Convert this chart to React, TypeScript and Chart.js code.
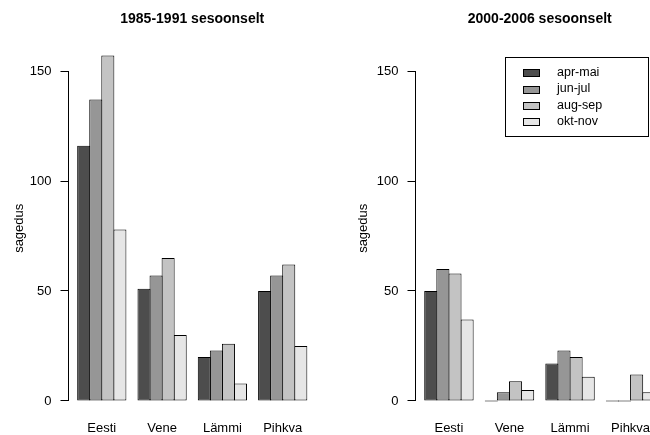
import { useEffect, useRef } from "react";
import { Chart, registerables } from "chart.js";

Chart.register(...registerables);

// Regions and seasons
const regions = ["Eesti", "Vene", "Lämmi", "Pihkva"];
const seasons = ["apr-mai", "jun-jul", "aug-sep", "okt-nov"];
const seasonColors = ["#4D4D4D", "#969696", "#C3C3C3", "#E6E6E6"];
const yTicks = [0, 50, 100, 150];

// 1985-1991, frequency per region
const p1AprMai = [116, 51, 20, 50];
const p1JunJul = [137, 57, 23, 57];
const p1AugSep = [157, 65, 26, 62];
const p1OktNov = [78, 30, 8, 25];

// 2000-2006, frequency per region
const p2AprMai = [50, 0, 17, 0];
const p2JunJul = [60, 4, 23, 0];
const p2AugSep = [58, 9, 20, 12];
const p2OktNov = [37, 5, 11, 4];

const FONT = "'Liberation Sans', Arial, Helvetica, sans-serif";
Chart.defaults.font.family = FONT;
Chart.defaults.color = "#000";

// shared value range: 0..max, padded by 4% on both ends
const allValues = [
  ...p1AprMai, ...p1JunJul, ...p1AugSep, ...p1OktNov,
  ...p2AprMai, ...p2JunJul, ...p2AugSep, ...p2OktNov,
];
const yTop = Math.max(...allValues);
const yPad = yTop * 0.04;

// group = 4 bars + 1 gap (5 bar units); bars span units 1..20,
// range padded by 4% of that span; first group centred at unit 3
const unitsPerGroup = 5;
const spanUnits = regions.length * unitsPerGroup - 1;
const xMinGroups = (1 - spanUnits * 0.04 - 3) / unitsPerGroup;
const xMaxGroups = regions.length - 1 - xMinGroups;

function alignPx(v: number) {
  return Math.round(v - 0.5) + 0.5;
}

const axisLinePlugin = {
  id: "axisLine",
  afterDraw(chart: any) {
    const { ctx, chartArea } = chart;
    const ys = chart.scales.y;
    const x = alignPx(chartArea.left);
    ctx.save();
    ctx.strokeStyle = "#000";
    ctx.lineWidth = 1;
    ctx.beginPath();
    ctx.moveTo(x, alignPx(ys.getPixelForValue(yTicks[0])) + 0.5);
    ctx.lineTo(x, alignPx(ys.getPixelForValue(yTicks[yTicks.length - 1])) - 0.5);
    ctx.stroke();
    ctx.restore();
  },
};

const legendBoxPlugin = {
  id: "legendBox",
  afterDraw(chart: any) {
    const opts = chart.options.plugins.legendBox;
    if (!opts || !opts.display) return;
    const { ctx } = chart;
    const { left, top, right, bottom, swatchX, swatchW, swatchH, textX, rowY, rowGap, fontSize } = opts;
    ctx.save();
    ctx.lineWidth = 1;
    ctx.strokeStyle = "#000";
    ctx.fillStyle = "#fff";
    ctx.fillRect(left, top, right - left, bottom - top);
    ctx.strokeRect(left, top, right - left, bottom - top);
    ctx.font = `${fontSize}px ${FONT}`;
    ctx.textBaseline = "middle";
    ctx.textAlign = "left";
    chart.data.datasets.forEach((ds: any, i: number) => {
      const cy = rowY + i * rowGap;
      const sy = Math.round(cy - swatchH / 2) + 0.5;
      ctx.fillStyle = ds.backgroundColor;
      ctx.fillRect(swatchX, sy, swatchW, swatchH);
      ctx.strokeStyle = "#000";
      ctx.strokeRect(swatchX, sy, swatchW, swatchH);
      ctx.fillStyle = "#000";
      ctx.fillText(ds.label, textX, cy);
    });
    ctx.restore();
  },
};

type PanelSpec = {
  title: string;
  series: number[][];
  axisWidth: number;
  rightPad: number;
  yTitlePad: number;
  legend?: any;
};

function makeChart(canvas: HTMLCanvasElement, spec: PanelSpec) {
  return new Chart(canvas, {
    type: "bar",
    data: {
      datasets: spec.series.map((vals, k) => ({
        label: seasons[k],
        data: vals.map((v, i) => ({ x: i, y: v })),
        backgroundColor: seasonColors[k],
        borderColor: "#000",
        borderWidth: 1,
        borderSkipped: false,
        categoryPercentage: 0.8,
        barPercentage: 1.083,
        minBarLength: 1,
        inflateAmount: 0,
      })),
    },
    options: {
      responsive: false,
      animation: false,
      devicePixelRatio: 1,
      layout: { padding: { left: 0, right: spec.rightPad, top: 0, bottom: 0 } },
      plugins: {
        legend: { display: false },
        tooltip: { enabled: false },
        title: {
          display: true,
          text: spec.title,
          fullSize: false,
          color: "#000",
          font: { size: 14, weight: "bold" },
          padding: { top: 11, bottom: 14 },
        },
        legendBox: spec.legend || { display: false },
      } as any,
      scales: {
        x: {
          type: "linear",
          offset: false,
          min: xMinGroups,
          max: xMaxGroups,
          afterBuildTicks: (s: any) => {
            s.ticks = regions.map((_, i) => ({ value: i }));
          },
          afterFit: (s: any) => {
            s.height = 20.2;
          },
          grid: { display: false, drawTicks: false, offset: false },
          border: { display: false },
          ticks: {
            autoSkip: false,
            maxRotation: 0,
            padding: 5.5,
            color: "#000",
            font: { size: 13 },
            callback: (_v: any, i: number) => regions[i],
          },
        },
        y: {
          min: -yPad,
          max: yTop + yPad,
          afterBuildTicks: (s: any) => {
            s.ticks = yTicks.map((v) => ({ value: v }));
          },
          afterFit: (s: any) => {
            s.width = spec.axisWidth;
          },
          border: { display: false },
          grid: {
            drawOnChartArea: false,
            drawTicks: true,
            tickLength: 8,
            color: "#000",
            lineWidth: 1,
          },
          ticks: { padding: 9, color: "#000", font: { size: 13 } },
          title: {
            display: true,
            text: "sagedus",
            color: "#000",
            font: { size: 13 },
            padding: { top: spec.yTitlePad, bottom: 0 },
          },
        },
      },
    } as any,
    plugins: [axisLinePlugin, legendBoxPlugin],
  });
}

export default function App() {
  const leftRef = useRef<HTMLCanvasElement>(null);
  const rightRef = useRef<HTMLCanvasElement>(null);

  useEffect(() => {
    const a = makeChart(leftRef.current!, {
      title: "1985-1991 sesoonselt",
      series: [p1AprMai, p1JunJul, p1AugSep, p1OktNov],
      axisWidth: 68.5,
      rightPad: 9,
      yTitlePad: 11.5,
    });
    const b = makeChart(rightRef.current!, {
      title: "2000-2006 sesoonselt",
      series: [p2AprMai, p2JunJul, p2AugSep, p2OktNov],
      axisWidth: 90.5,
      rightPad: 6,
      yTitlePad: 30.5,
      legend: {
        display: true,
        left: 180.5,
        top: 57.5,
        right: 323.5,
        bottom: 136.5,
        swatchX: 198.5,
        swatchW: 16,
        swatchH: 7,
        textX: 232,
        rowY: 72.8,
        rowGap: 16.2,
        fontSize: 12.5,
      },
    });
    return () => {
      a.destroy();
      b.destroy();
    };
  }, []);

  return (
    <div
      style={{
        position: "absolute",
        left: 0,
        top: 0,
        width: 650,
        height: 435,
        overflow: "hidden",
        background: "#fff",
      }}
    >
      <canvas
        ref={leftRef}
        width={325}
        height={435}
        style={{ position: "absolute", left: 0, top: 0 }}
      />
      <canvas
        ref={rightRef}
        width={345}
        height={435}
        style={{ position: "absolute", left: 325, top: 0 }}
      />
    </div>
  );
}
